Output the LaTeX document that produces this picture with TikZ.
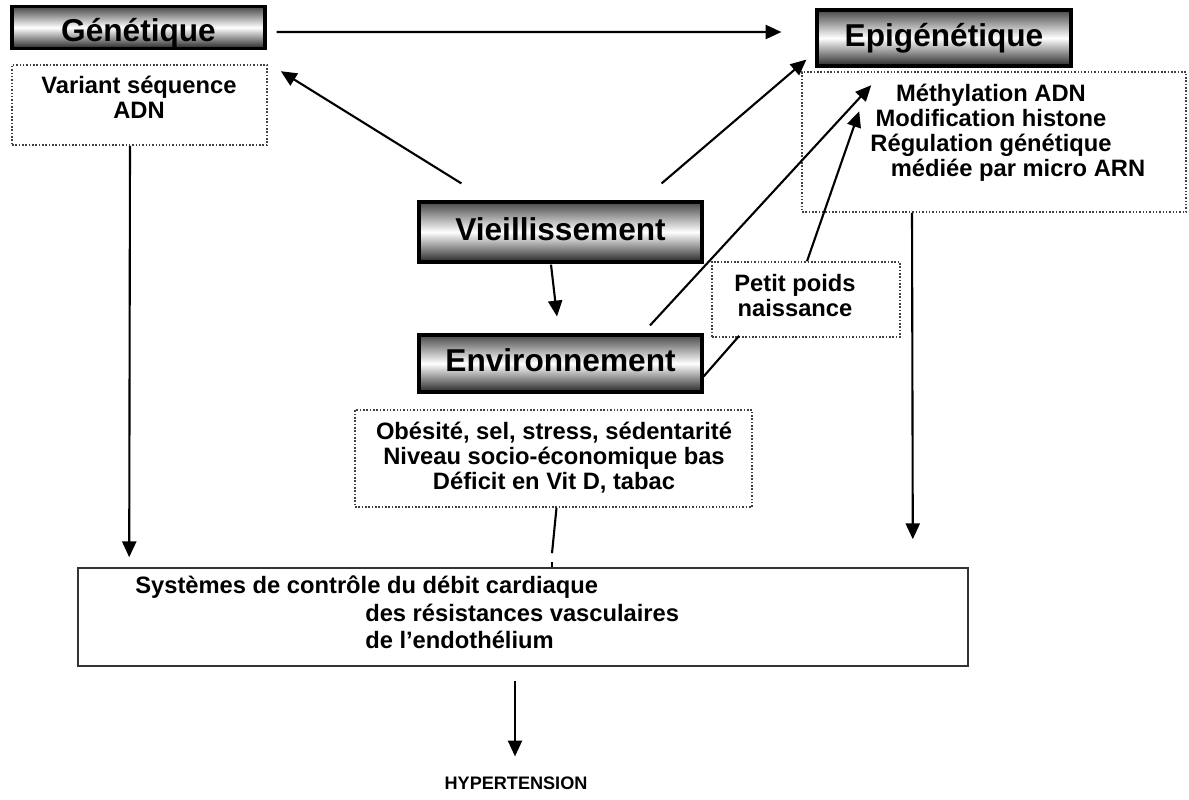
\documentclass[tikz,border=0pt]{standalone}
\usepackage{fontspec}
\setmainfont{Liberation Sans}
\usetikzlibrary{arrows.meta,calc}

\begin{document}
\begin{tikzpicture}[x=0.02cm,y=-0.02cm,
  sz/.style 2 args={minimum width=#1*0.02cm,minimum height=#2*0.02cm},
  title/.style={draw=black,line width=1.8pt,inner sep=0pt,
    text height=12.9pt,text depth=3.8pt,
    top color=black!72,bottom color=black!85,middle color=white,
    font=\fontsize{18}{20}\selectfont\bfseries},
  dotbox/.style={draw=black!75,densely dotted,line width=0.9pt,inner sep=0pt},
  plainbox/.style={draw=black!80,line width=0.9pt,inner sep=0pt},
  txt/.style={align=center,inner sep=0pt,font=\fontsize{13.5}{14.2}\selectfont\bfseries},
  link/.style={line width=1.2pt},
  arr/.style={link,-{Triangle[length=9pt,width=8pt]}}]

\useasboundingbox (0,0) rectangle (1189,799);

% headline boxes
\node[title,sz={253}{39},text height=20pt] (gen) at (138.5,27.5) {Génétique};
\node[title,sz={254}{56}] (epi) at (944,38) {Epigénétique};
\node[title,sz={283}{60}] (vie) at (560.5,232) {Vieillissement};
\node[title,sz={283}{57}] (env) at (560.5,363.5) {Environnement};

% detail boxes
\node[dotbox,sz={255}{80}] (var) at (139.5,105) {};
\node[txt] (vartxt) at (139,97.5) {Variant séquence\\ADN};

\node[dotbox,sz={384}{140}] (epb) at (994,142) {};
\node[txt] (epbtxt) at (991,133) {Méthylation ADN\\Modification histone\\Régulation génétique\\\hspace*{1.08cm}médiée par micro ARN};

\node[dotbox,sz={188}{75}] (pet) at (806,299.5) {};
\node[txt] (pettxt) at (795,295.5) {Petit poids\\naissance};

\node[dotbox,sz={397}{97}] (obe) at (553.5,458.5) {};
\node[txt] (obetxt) at (554,458) {Obésité, sel, stress, sédentarité\\Niveau socio-économique bas\\Déficit en Vit D, tabac};

\node[plainbox,sz={890}{98}] (sys) at (523,617) {};
\node[txt,align=left,anchor=west,font=\fontsize{13.5}{15.6}\selectfont\bfseries] (systxt) at (135,612.5)
  {Systèmes de contrôle du débit cardiaque\\\hspace*{4.6cm}des résistances vasculaires\\\hspace*{4.6cm}de l’endothélium};

\node[font=\fontsize{10.3}{12}\selectfont\bfseries] (hyp) at (516,783) {HYPERTENSION};

% connectors
\draw[arr] ($(gen.east)+(10,4.5)$) -- ($(epi.west)+(-34,-6)$);
\draw[arr] ($(vie.north west)+(44,-17)$) -- ($(var.north east)+(13,7)$);
\draw[arr] ($(vie.north east)+(-42,-17)$) -- ($(epi.south west)+(-9,-8)$);
\draw[arr] ($(vie.south)+(-9.5,1)$) -- ($(env.north)+(-3.5,-17)$);
\draw[arr] ($(env.north)+(89.5,-8)$) -- ($(epb.north west)+(70,14)$);
\draw[arr] ($(pet.north)+(1,0)$) -- ($(epb.north west)+(58,40)$);
\draw[link] ($(env.east)+(0,13)$) -- ($(pet.south west)+(28,-2)$);
\draw[arr] ($(var.south)+(-9.5,0)$) -- ($(sys.north west)+(52,-10)$);
\draw[arr] ($(epb.south)+(-82,0)$) -- ($(sys.north east)+(-56,-28)$);
\draw[link] ($(obe.south)+(3,0)$) -- ($(sys.north)+(29,-14)$);
\draw[line width=0.8pt] ($(sys.north)+(29,-5)$) -- ($(sys.north)+(29,0)$);
\draw[arr] ($(sys.south)+(-8,14)$) -- ($(hyp.north)+(-1,-14)$);
\end{tikzpicture}
\end{document}
